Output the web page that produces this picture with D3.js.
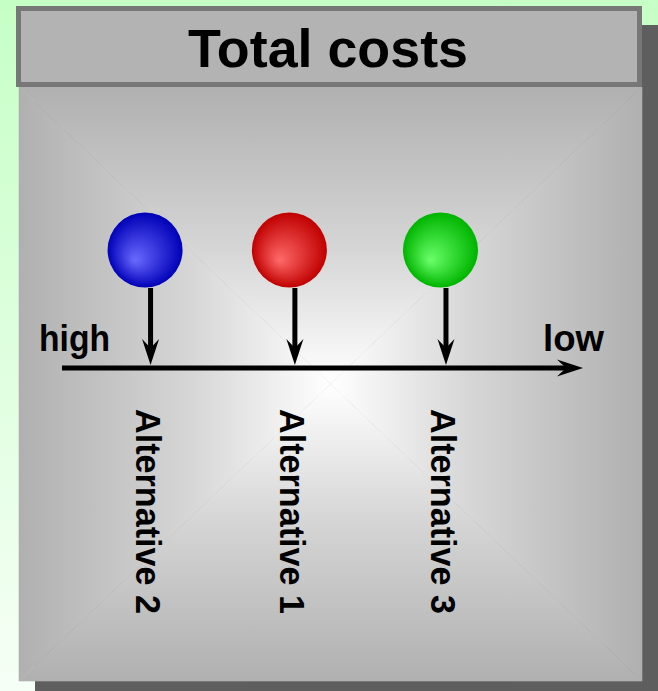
<!DOCTYPE html>
<html lang="en">
<head>
<meta charset="UTF-8">
<title>Total costs</title>
<style type="text/css">
	body{
		margin: 0;
		overflow: hidden;
		font-family: "Liberation Sans", Arial, sans-serif;
	}
	text { font-weight: bold; fill: #000 }
	.title { font-size: 54px }
	.end-label { font-size: 36px }
	.alt-label { font-size: 35.5px }
</style>
<script type="text/javascript" src="https://cdn.jsdelivr.net/npm/d3@7/dist/d3.min.js"></script>
</head>
<body>
<script type="text/javascript">

// data
var title = 'Total costs';
var alternatives = ['Alternative 2', 'Alternative 1', 'Alternative 3'];
var costs = [83, 55.3, 26.3];          // relative total cost, 100 = high, 0 = low
var ballColors = [
	{ light: '#6a6aff', dark: '#0000b8' },
	{ light: '#ff6a6a', dark: '#c00000' },
	{ light: '#6aff6a', dark: '#00b400' }
];
var axisEnds = ['high', 'low'];
var costDomain = [100, 0];

var width = 658, height = 691;
var panel = { left: 19, right: 642, top: 87, bottom: 681 };
var axisY = 368;

var svg = d3.select('body').append('svg')
	.attr('width', width)
	.attr('height', height);

var defs = svg.append('defs');

// page background, pale green fading down
var bg = defs.append('linearGradient').attr('id', 'bg')
	.attr('x1', 0).attr('y1', 0).attr('x2', 0).attr('y2', 1);
bg.append('stop').attr('offset', 0).attr('stop-color', '#c6ffc6');
bg.append('stop').attr('offset', 1).attr('stop-color', '#f6fff6');

svg.append('rect')
	.attr('width', width).attr('height', height)
	.style('fill', 'url(#bg)');

// drop shadow
svg.append('rect')
	.attr('x', 35).attr('y', 25)
	.attr('width', width - 35).attr('height', height - 25)
	.style('fill', '#5e5e5e');

// panel with rectangular gradient: 4 triangles from the edges to the centre
var cx = (panel.left + panel.right) / 2, cy = (panel.top + panel.bottom) / 2;
var corners = [[panel.left, panel.top], [panel.right, panel.top], [panel.right, panel.bottom], [panel.left, panel.bottom]];
var edgeMid = [[cx, panel.top], [panel.right, cy], [cx, panel.bottom], [panel.left, cy]];

corners.forEach(function(c, i) {
	var next = corners[(i + 1) % 4];
	var g = defs.append('linearGradient').attr('id', 'side' + i)
		.attr('gradientUnits', 'userSpaceOnUse')
		.attr('x1', edgeMid[i][0]).attr('y1', edgeMid[i][1])
		.attr('x2', cx).attr('y2', cy);
	g.append('stop').attr('offset', 0).attr('stop-color', '#b0b0b0');
	g.append('stop').attr('offset', 0.55).attr('stop-color', '#d6d6d6');
	g.append('stop').attr('offset', 1).attr('stop-color', '#ffffff');
	svg.append('path')
		.attr('d', 'M' + c + 'L' + next + 'L' + [cx, cy] + 'Z')
		.style('fill', 'url(#side' + i + ')')
		.style('stroke', 'url(#side' + i + ')')
		.style('stroke-width', 0.6);
});

// title box
svg.append('rect')
	.attr('x', 18.5).attr('y', 8.5)
	.attr('width', 621).attr('height', 76)
	.style('fill', '#b3b3b3')
	.style('stroke', '#777')
	.style('stroke-width', 5);

svg.append('text')
	.attr('class', 'title')
	.attr('x', 328).attr('y', 67)
	.attr('text-anchor', 'middle')
	.attr('textLength', 280)
	.attr('lengthAdjust', 'spacingAndGlyphs')
	.text(title);

// cost scale, high on the left, low on the right
var x = d3.scaleLinear().domain(costDomain).range([62, 583]);

// stealth arrow head pointing down with tip at (px, py)
function headDown(px, py) {
	return 'M' + px + ',' + py +
		'L' + (px - 8.5) + ',' + (py - 26) +
		'L' + px + ',' + (py - 17) +
		'L' + (px + 8.5) + ',' + (py - 26) + 'Z';
}

// axis line with arrow to the right
svg.append('line')
	.attr('x1', x(costDomain[0])).attr('y1', axisY)
	.attr('x2', x(costDomain[1]) - 10).attr('y2', axisY)
	.style('stroke', '#000').style('stroke-width', 5);

var tip = x(costDomain[1]);
svg.append('path')
	.attr('d', 'M' + tip + ',' + axisY +
		'L' + (tip - 26) + ',' + (axisY - 8.5) +
		'L' + (tip - 17) + ',' + axisY +
		'L' + (tip - 26) + ',' + (axisY + 8.5) + 'Z')
	.style('fill', '#000');

svg.append('text')
	.attr('class', 'end-label')
	.attr('x', 39).attr('y', 351)
	.attr('textLength', 71)
	.attr('lengthAdjust', 'spacingAndGlyphs')
	.text(axisEnds[0]);

svg.append('text')
	.attr('class', 'end-label')
	.attr('x', 543).attr('y', 351)
	.attr('textLength', 61)
	.attr('lengthAdjust', 'spacingAndGlyphs')
	.text(axisEnds[1]);

// balls
ballColors.forEach(function(c, i) {
	var g = defs.append('radialGradient').attr('id', 'ball' + i)
		.attr('cx', 0.5).attr('cy', 0.5).attr('r', 0.5)
		.attr('fx', 0.36).attr('fy', 0.64);
	g.append('stop').attr('offset', 0).attr('stop-color', c.light);
	g.append('stop').attr('offset', 0.45).attr('stop-color', d3.interpolateRgb(c.light, c.dark)(0.45));
	g.append('stop').attr('offset', 1).attr('stop-color', c.dark);
});

var items = alternatives.map(function(name, i) { return { name: name, cost: costs[i], i: i }; });

var alt = svg.selectAll('.alt')
	.data(items)
	.enter().append('g')
	.attr('class', 'alt');

alt.append('circle')
	.attr('cx', d => x(d.cost) - 5.5)
	.attr('cy', 250)
	.attr('r', 37.5)
	.style('fill', d => 'url(#ball' + d.i + ')');

alt.append('line')
	.attr('x1', d => x(d.cost)).attr('y1', 288)
	.attr('x2', d => x(d.cost)).attr('y2', axisY - 16)
	.style('stroke', '#000').style('stroke-width', 5);

alt.append('path')
	.attr('d', d => headDown(x(d.cost), axisY - 3))
	.style('fill', '#000');

alt.append('text')
	.attr('class', 'alt-label')
	.attr('transform', d => 'translate(' + (x(d.cost) - 15) + ',409) rotate(90)')
	.attr('textLength', 205)
	.attr('lengthAdjust', 'spacingAndGlyphs')
	.text(d => d.name);

</script>
</body>
</html>
